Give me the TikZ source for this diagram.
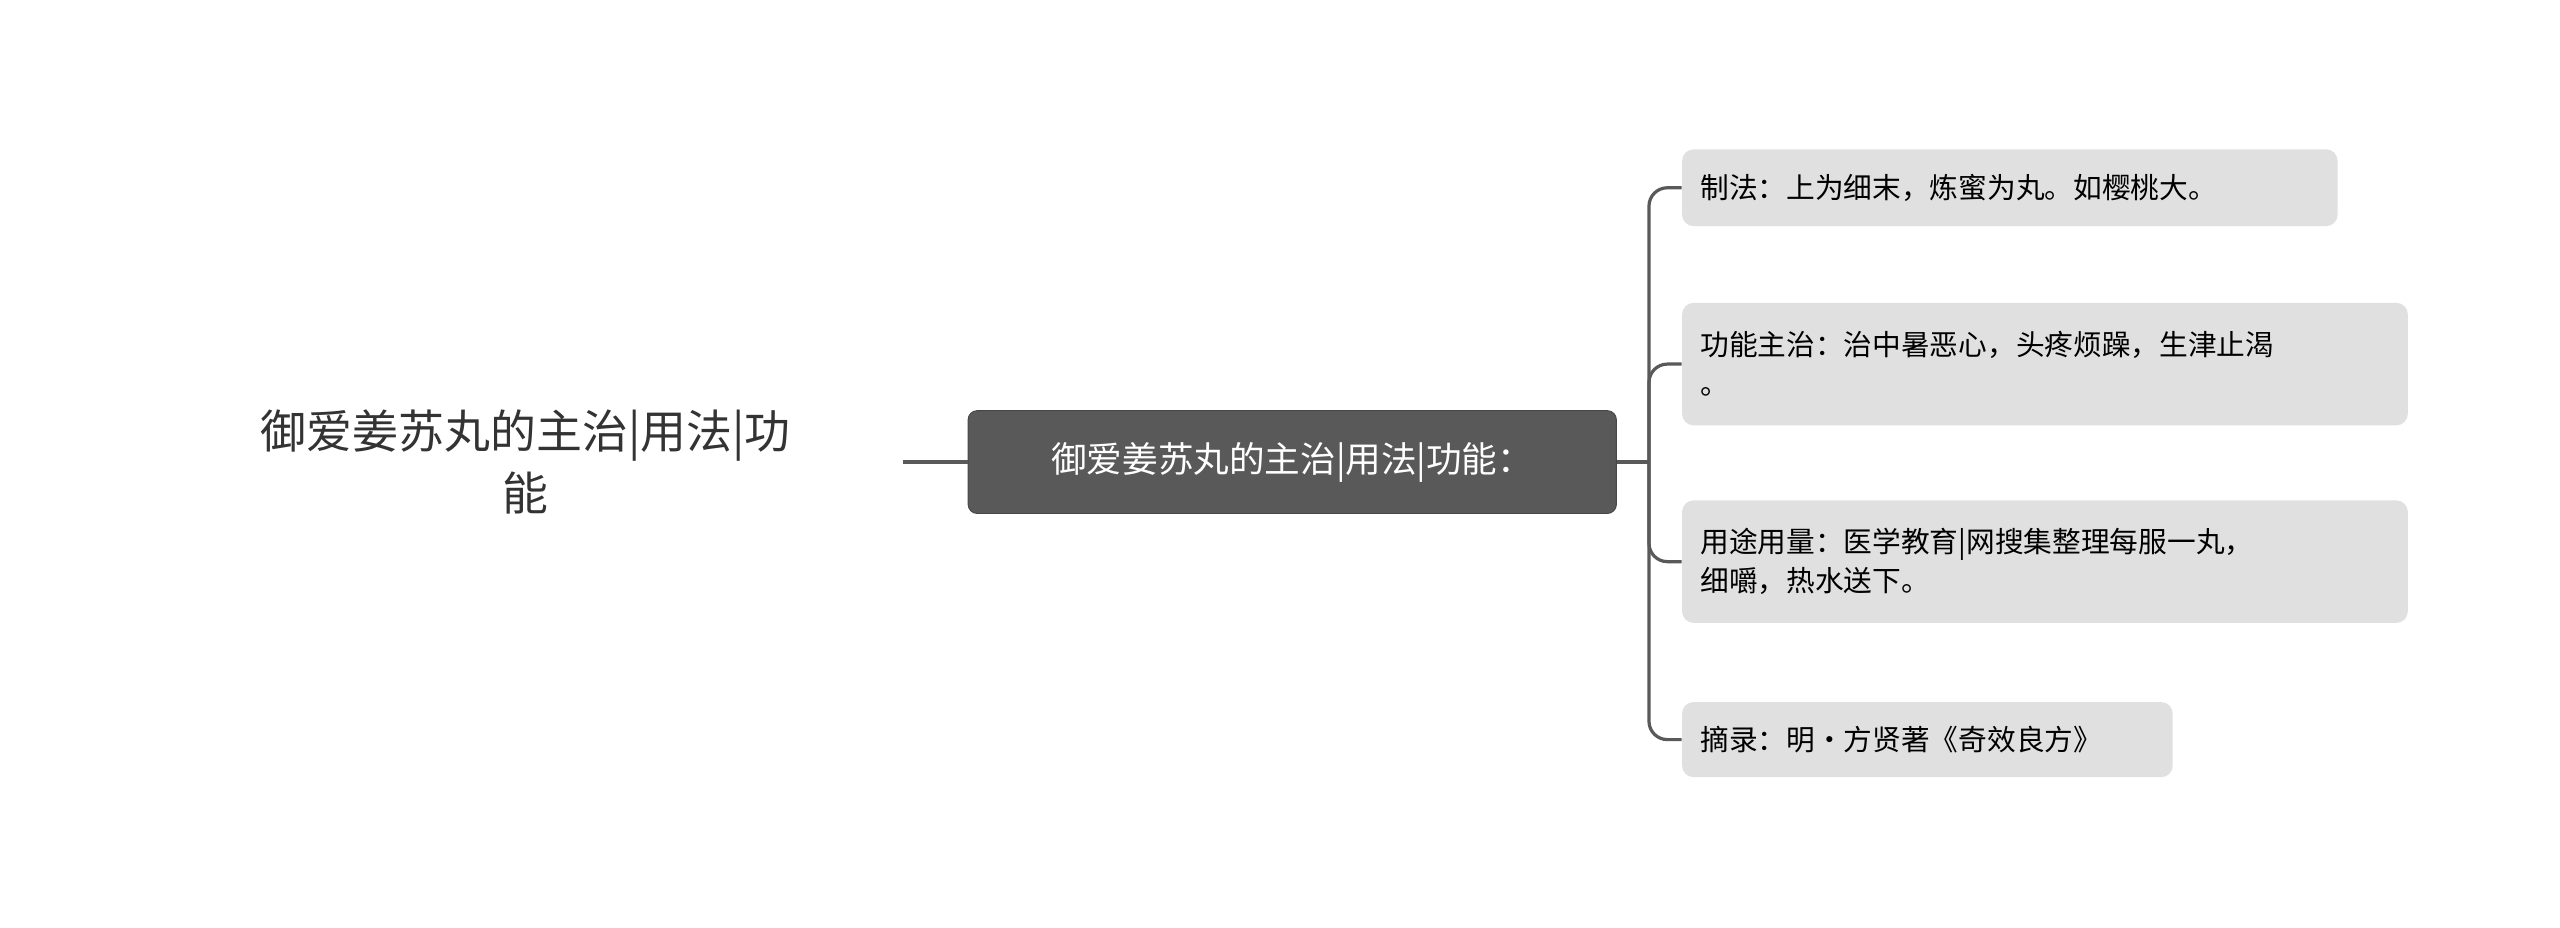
\documentclass[tikz,border=0pt]{standalone}
\usepackage{fontspec}
\setmainfont{Noto Sans CJK SC}
\usetikzlibrary{positioning}
\definecolor{linegray}{HTML}{595959}
\definecolor{leafgray}{HTML}{E0E0E0}
\begin{document}
\begin{tikzpicture}[x=0.025cm,y=-0.025cm,
    rootnode/.style={align=center,font=\fontsize{20}{27}\selectfont,text=black!80},
    midnode/.style={fill=linegray,draw=linegray!80!black,rounded corners=4pt,text=white,
        font=\fontsize{15.5}{20}\selectfont,minimum width=9.925cm,minimum height=1.575cm,inner xsep=0.3cm},
    leafnode/.style={fill=leafgray,rounded corners=5pt,anchor=west,align=left,
        font=\fontsize{12.5}{17}\selectfont,inner xsep=0.28cm,inner ysep=0.15cm},
    branch/.style={draw=linegray,line width=1.4pt,rounded corners=8pt}]
    %% canvas
    \useasboundingbox (0,0) rectangle (1568,568);
    %% root and main topic
    \node[rootnode] (root) at (322,283) {御爱姜苏丸的主治|用法|功\\能};
    \node[midnode] (mid) at (791.5,283) {御爱姜苏丸的主治|用法|功能：};
    \coordinate (rootend) at (553,283);
    \coordinate (fork) at (1010,283);
    %% leaves
    \node[leafnode,text width=9.475cm,minimum height=1.175cm] (make) at (1030,115) {制法：上为细末，炼蜜为丸。如樱桃大。};
    \node[leafnode,text width=10.55cm,minimum height=1.875cm] (func) at (1030,223) {功能主治：治中暑恶心，头疼烦躁，生津止渴\\。};
    \node[leafnode,text width=10.55cm,minimum height=1.875cm] (dose) at (1030,344) {用途用量：医学教育|网搜集整理每服一丸，\\细嚼，热水送下。};
    \node[leafnode,text width=6.95cm,minimum height=1.15cm] (src) at (1030,453) {摘录：明·方贤著《奇效良方》};
    %% connectors
    \draw[branch] (rootend) -- (mid.west);
    \draw[branch] (mid.east) -- (fork);
    \foreach \leaf in {make,func,dose,src}
        \draw[branch] (fork) |- (\leaf.west);
\end{tikzpicture}
\end{document}
